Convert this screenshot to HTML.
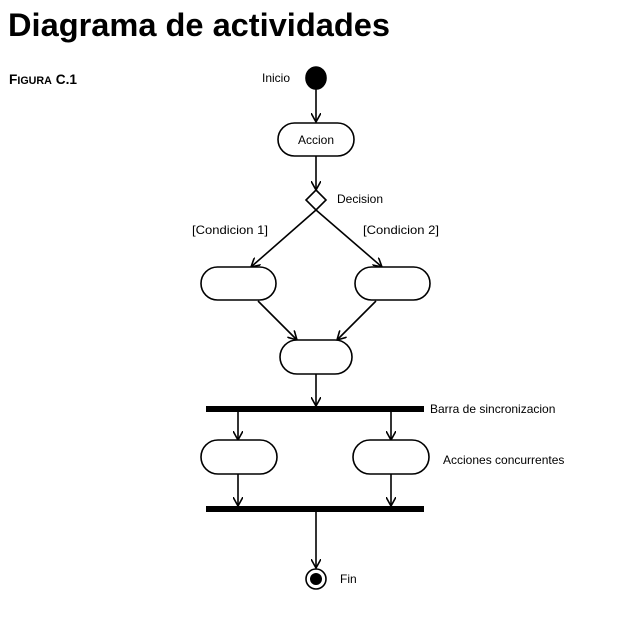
<!DOCTYPE html>
<html><head><meta charset="utf-8"><style>
html,body{margin:0;padding:0;background:#fff;}
svg{display:block;}
text{font-family:"Liberation Sans",Arial,sans-serif;fill:#000;}
</style></head><body>
<svg width="625" height="619" viewBox="0 0 625 619" xmlns="http://www.w3.org/2000/svg">
<defs>
<marker id="a" viewBox="0 0 10 10" refX="9" refY="5" markerWidth="10" markerHeight="10" markerUnits="userSpaceOnUse" orient="auto">
<path d="M0,0 L9,5 L0,10" fill="none" stroke="#000" stroke-width="1.6"/>
</marker>
</defs>
<text x="8" y="36" font-size="32" font-weight="bold" textLength="382" lengthAdjust="spacingAndGlyphs">Diagrama de actividades</text>
<text x="9" y="84" font-size="14" font-weight="bold" textLength="68" lengthAdjust="spacingAndGlyphs">F<tspan font-size="11">IGURA</tspan> C.1</text>
<g stroke="#000" stroke-width="1.6" fill="none">
<ellipse cx="316" cy="78" rx="10" ry="11" fill="#000"/>
<line x1="316" y1="89" x2="316" y2="122" marker-end="url(#a)"/>
<rect x="278" y="123" width="76" height="33" rx="16.5" fill="#fff"/>
<line x1="316" y1="156" x2="316" y2="190" marker-end="url(#a)"/>
<path d="M316,190 L326,200 L316,210 L306,200 Z" fill="#fff"/>
<line x1="316" y1="210" x2="251" y2="267" marker-end="url(#a)"/>
<line x1="316" y1="210" x2="382" y2="267" marker-end="url(#a)"/>
<rect x="201" y="267" width="75" height="33" rx="16.5" fill="#fff"/>
<rect x="355" y="267" width="75" height="33" rx="16.5" fill="#fff"/>
<line x1="258" y1="301" x2="297" y2="340" marker-end="url(#a)"/>
<line x1="376" y1="301" x2="337" y2="340" marker-end="url(#a)"/>
<rect x="280" y="340" width="72" height="34" rx="17" fill="#fff"/>
<line x1="316" y1="374" x2="316" y2="406" marker-end="url(#a)"/>
<line x1="238" y1="411" x2="238" y2="440" marker-end="url(#a)"/>
<line x1="391" y1="411" x2="391" y2="440" marker-end="url(#a)"/>
<rect x="201" y="440" width="76" height="34" rx="17" fill="#fff"/>
<rect x="353" y="440" width="76" height="34" rx="17" fill="#fff"/>
<line x1="238" y1="474" x2="238" y2="506" marker-end="url(#a)"/>
<line x1="391" y1="474" x2="391" y2="506" marker-end="url(#a)"/>
<line x1="316" y1="511" x2="316" y2="568" marker-end="url(#a)"/>
<circle cx="316" cy="579" r="10" fill="#fff"/>
<circle cx="316" cy="579" r="6" fill="#000" stroke="none"/>
</g>
<rect x="206" y="406" width="218" height="6" fill="#000"/>
<rect x="206" y="506" width="218" height="6" fill="#000"/>
<g font-size="12">
<text x="262" y="82">Inicio</text>
<text x="316" y="144" text-anchor="middle">Accion</text>
<text x="337" y="203">Decision</text>
<text x="192" y="234" textLength="76" lengthAdjust="spacingAndGlyphs">[Condicion 1]</text>
<text x="363" y="234" textLength="76" lengthAdjust="spacingAndGlyphs">[Condicion 2]</text>
<text x="430" y="413">Barra de sincronizacion</text>
<text x="443" y="464">Acciones concurrentes</text>
<text x="340" y="583">Fin</text>
</g>
</svg>
</body></html>
